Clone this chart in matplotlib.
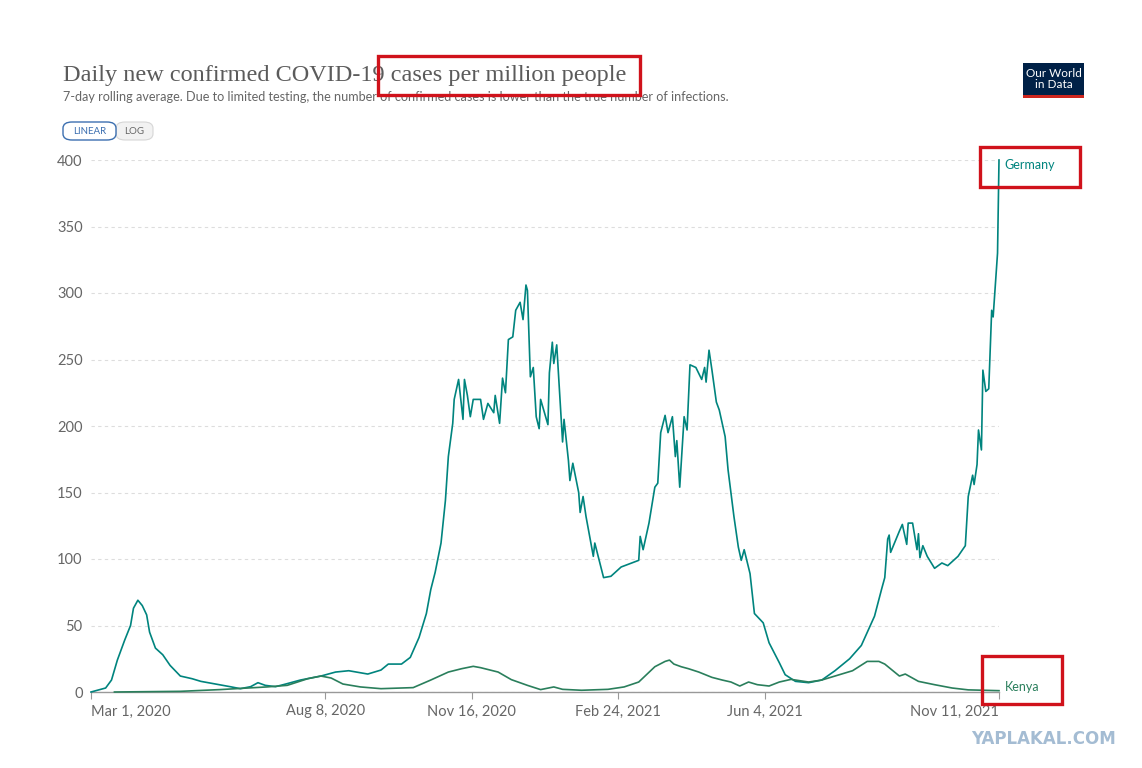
import matplotlib
matplotlib.use("Agg")
import matplotlib.pyplot as plt
from matplotlib.patches import FancyBboxPatch, Rectangle

# days since Mar 1, 2020 and daily new cases per million (7-day avg)
germany_day = [0, 10, 14, 18, 23, 27, 29, 32, 35, 38, 40, 44, 49, 54, 61, 69, 75, 85, 95, 102,
               109, 114, 119, 126, 133, 143, 157, 167, 176, 189, 198, 203, 212, 218, 224, 229,
               232, 235, 239, 242, 244, 247, 248, 251, 254, 255, 257, 259, 261, 266, 268, 271,
               275, 276, 279, 281, 283, 285, 288, 290, 293, 295, 297, 298, 300, 302, 304, 306,
               307, 312, 313, 315, 316, 318, 322, 323, 326, 327, 329, 333, 334, 336, 338, 343,
               344, 350, 355, 362, 374, 375, 377, 381, 385, 387, 389, 392, 394, 397, 399, 400,
               402, 405, 407, 409, 413, 417, 419, 420, 422, 424, 427, 429, 433, 435, 439, 442,
               444, 446, 450, 453, 459, 463, 470, 474, 481, 490, 499, 508, 518, 526, 535, 540,
               542, 544, 545, 546, 552, 554, 557, 558, 561, 564, 565, 566, 568, 571, 576, 581,
               585, 592, 597, 599, 602, 603, 605, 606, 608, 609, 611, 613, 615, 616, 619, 620]
germany_val = [0, 3, 9, 24, 39, 50, 63, 69, 65, 58, 45, 33, 28, 20, 12, 10, 8, 6, 4, 2.5,
               4, 7, 5, 4, 6, 9, 12, 15, 16, 13.5, 16.5, 21, 21, 26, 41, 59,
               77, 90, 112, 144, 177, 202, 220, 235, 205, 235, 223, 207, 220, 220, 205, 217,
               210, 223, 202, 236, 225, 265, 267, 287, 293, 280, 306, 302, 237, 244, 207, 198,
               220, 201, 240, 263, 247, 261, 188, 205, 174, 159, 172, 150, 135, 147, 132, 102,
               112, 86, 87, 94, 99, 117, 107, 127, 154, 157, 195, 208, 195, 207, 177, 189,
               154, 207, 197, 246, 244, 235, 244, 233, 257, 242, 218, 212, 192, 167, 132, 109,
               99, 107, 89, 59, 52, 37, 22, 13, 8, 7, 9, 16, 25, 35, 57, 78,
               86, 115, 118, 105, 121, 126, 111, 127, 127, 107, 119, 101, 110, 102, 93, 97,
               95, 102, 110, 147, 163, 156, 171, 197, 182, 242, 226, 228, 287, 282, 330, 400]

kenya_day = [16, 61, 88, 107, 120, 134, 148, 157, 164, 172, 184, 198, 220, 232, 244, 253, 261,
             266, 278, 287, 298, 307, 316, 322, 335, 353, 364, 374, 385, 392, 395, 398, 403,
             408, 415, 424, 431, 437, 443, 449, 455, 463, 470, 478, 490, 499, 508, 520, 530,
             538, 542, 552, 556, 565, 576, 588, 599, 620]
kenya_val = [0, 0.5, 1.8, 3, 3.8, 5, 10, 12, 10.5, 6, 3.8, 2.5, 3.3, 9, 15, 17.5, 19.3,
             18.3, 15, 9.3, 5, 1.8, 3.8, 2, 1.3, 2, 3.8, 7.5, 19, 23, 24, 21, 19,
             17.5, 15, 11, 9, 7.5, 4.5, 7.5, 5.5, 4.5, 7.5, 9.5, 7.5, 9, 12, 16, 23,
             23, 21, 12, 13.5, 8, 5.5, 3, 1.6, 1]

tick_days = [0, 160, 260, 360, 460, 620]
tick_labels = ["Mar 1, 2020", "Aug 8, 2020", "Nov 16, 2020", "Feb 24, 2021", "Jun 4, 2021", "Nov 11, 2021"]
y_ticks = [0, 50, 100, 150, 200, 250, 300, 350, 400]

germany_color = "#00847E"
kenya_color = "#2A7F5C"
grey = "#666666"

W, H = 1142, 768
fig = plt.figure(figsize=(W / 100, H / 100), dpi=100)
plt.rcParams['font.family'] = ['Lato', 'DejaVu Sans']

def fx(px):
    return px / W

def fy(py):
    return 1 - py / H

ax = fig.add_axes([fx(91), fy(692), fx(999) - fx(91), fy(160) - fy(692)])
ax.plot(germany_day, germany_val, color=germany_color, lw=1.2, clip_on=False, zorder=3)
ax.plot(kenya_day, kenya_val, color=kenya_color, lw=1.2, clip_on=False, zorder=3)
ax.set_xlim(0, 620)
ax.set_ylim(0, 400)

for s in ["top", "right", "left"]:
    ax.spines[s].set_visible(False)
ax.spines["bottom"].set_color("#999999")
ax.spines["bottom"].set_linewidth(1)

ax.set_yticks(y_ticks)
ax.set_yticklabels([str(v) for v in y_ticks])
ax.tick_params(axis="y", length=0, pad=6, labelsize=10.5, labelcolor=grey)
ax.grid(axis="y", color="#dddddd", linestyle=(0, (3, 3)), lw=0.8)
ax.set_axisbelow(True)

ax.set_xticks(tick_days)
ax.set_xticklabels(tick_labels)
ax.tick_params(axis="x", length=5, color="#999999", pad=4, labelsize=10.5, labelcolor=grey)
xt = ax.get_xticklabels()
xt[0].set_ha("left")
xt[-1].set_ha("right")

# series labels
ax.text(624, 396, "Germany", color=germany_color, fontsize=9, va="center", ha="left", clip_on=False)
ax.text(624, 4, "Kenya", color=kenya_color, fontsize=9, va="center", ha="left", clip_on=False)

# title and subtitle
fig.text(fx(63), fy(75), "Daily new confirmed COVID-19 cases per million people",
         family=["Liberation Serif", "DejaVu Serif"], fontsize=17.5, color="#5b5b5b", va="center")
fig.text(fx(63), fy(97), "7-day rolling average. Due to limited testing, the number of confirmed cases is lower than the true number of infections.",
         fontsize=9.05, color=grey, va="center")

# linear / log toggle
fig.patches.append(FancyBboxPatch((fx(116), fy(140)), fx(37), fy(122) - fy(140),
                                  boxstyle="round,pad=0,rounding_size=0.008", transform=fig.transFigure,
                                  fc="#f2f2f2", ec="#d6d6d6", lw=0.8))
fig.patches.append(FancyBboxPatch((fx(63), fy(140)), fx(53), fy(122) - fy(140),
                                  boxstyle="round,pad=0,rounding_size=0.008", transform=fig.transFigure,
                                  fc="white", ec="#3c6fb0", lw=1))
fig.text(fx(89.5), fy(131), "LINEAR", fontsize=7, color="#3c6fb0", ha="center", va="center")
fig.text(fx(134.5), fy(131), "LOG", fontsize=7, color=grey, ha="center", va="center")

# OWID logo
fig.patches.append(Rectangle((fx(1023), fy(95)), fx(61), fy(63) - fy(95), transform=fig.transFigure,
                             fc="#002147", ec="none"))
fig.patches.append(Rectangle((fx(1023), fy(98)), fx(61), fy(95) - fy(98), transform=fig.transFigure,
                             fc="#ce261e", ec="none"))
fig.text(fx(1053.5), fy(79), "Our World\nin Data", fontsize=8.5, color="white", ha="center", va="center",
         linespacing=0.95)

# red highlight boxes
for x0, y0, x1, y1 in [(378, 56, 640, 95), (980, 147, 1080, 187), (982, 656, 1062, 704)]:
    fig.patches.append(Rectangle((fx(x0), fy(y1)), fx(x1 - x0), fy(y0) - fy(y1), transform=fig.transFigure,
                                 fc="none", ec="#d0121b", lw=2.4, zorder=10))

# watermark
fig.text(fx(1116), fy(739), "YAPLAKAL.COM", fontsize=12, fontweight="bold", color="#a4bcd3",
         family=["DejaVu Sans"], ha="right", va="center")

fig.savefig("out.png", dpi=100)
